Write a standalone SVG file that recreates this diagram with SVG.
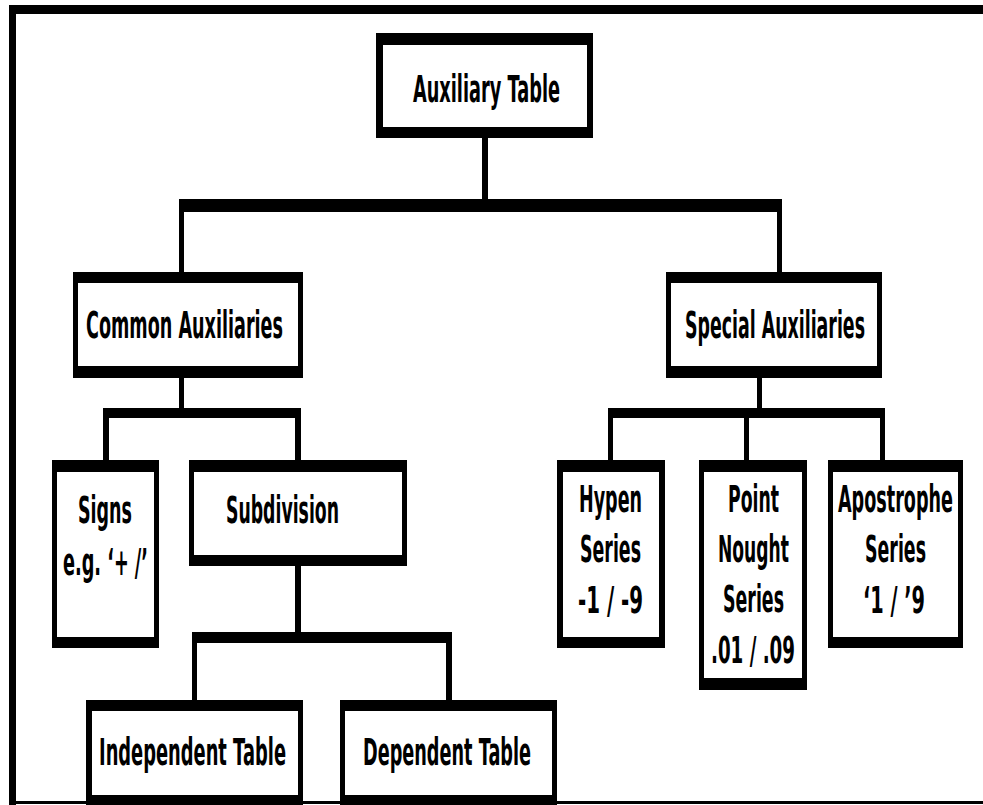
<svg xmlns="http://www.w3.org/2000/svg" width="983" height="805" viewBox="0 0 983 805">
  <style>
    .edge { fill: #000; }
    .wire { fill: #000; }
    .outer { fill: #000; }
    .inner { fill: #fff; }
    .label { font-family: "DejaVu Sans", "Noto Sans", sans-serif; font-weight: bold; font-size: 37px; fill: #000; }
  </style>
  <rect x="0" y="0" width="983" height="805" fill="#fff"/>

  <!-- page frame (right side runs off the sheet) -->
  <g id="frame">
    <rect class="edge" x="9" y="5" width="974" height="9"/>
    <rect class="edge" x="9" y="5" width="7" height="800"/>
    <rect class="edge" x="9" y="801" width="974" height="3"/>
  </g>

  <!-- tree connectors -->
  <g id="connectors">
    <rect class="wire" x="482" y="138" width="6" height="62"/>
    <rect class="wire" x="179" y="199" width="603" height="13"/>
    <rect class="wire" x="179" y="199" width="5" height="73"/>
    <rect class="wire" x="777" y="199" width="5" height="73"/>

    <rect class="wire" x="179" y="378" width="5" height="35"/>
    <rect class="wire" x="103" y="408" width="198" height="10"/>
    <rect class="wire" x="103" y="408" width="6" height="52"/>
    <rect class="wire" x="295" y="408" width="6" height="52"/>

    <rect class="wire" x="295" y="566" width="6" height="70"/>
    <rect class="wire" x="192" y="632" width="260" height="11"/>
    <rect class="wire" x="192" y="632" width="5" height="68"/>
    <rect class="wire" x="446" y="632" width="6" height="68"/>

    <rect class="wire" x="757" y="378" width="5" height="35"/>
    <rect class="wire" x="608" y="408" width="277" height="10"/>
    <rect class="wire" x="608" y="408" width="5" height="52"/>
    <rect class="wire" x="744" y="408" width="5" height="52"/>
    <rect class="wire" x="880" y="408" width="5" height="52"/>
  </g>

  <g id="auxiliary-table">
    <rect class="outer" x="376" y="33" width="217" height="105"/>
    <rect class="inner" x="383" y="45" width="204" height="82"/>
    <text class="label" x="413" y="102" textLength="147" lengthAdjust="spacingAndGlyphs">Auxiliary Table</text>
  </g>

  <g id="common-auxiliaries">
    <rect class="outer" x="73" y="272" width="230" height="106"/>
    <rect class="inner" x="78" y="283" width="220" height="83"/>
    <text class="label" x="86" y="338" textLength="197" lengthAdjust="spacingAndGlyphs">Common Auxiliaries</text>
  </g>

  <g id="special-auxiliaries">
    <rect class="outer" x="666" y="272" width="216" height="106"/>
    <rect class="inner" x="671" y="283" width="206" height="83"/>
    <text class="label" x="685" y="338" textLength="180" lengthAdjust="spacingAndGlyphs">Special Auxiliaries</text>
  </g>

  <g id="signs">
    <rect class="outer" x="52" y="460" width="107" height="188"/>
    <rect class="inner" x="57" y="472" width="97" height="165"/>
    <text class="label" x="78" y="523" textLength="54" lengthAdjust="spacingAndGlyphs">Signs</text>
    <text class="label" x="63" y="575" textLength="85" lengthAdjust="spacingAndGlyphs">e.g. ‘+ /’</text>
  </g>

  <g id="subdivision">
    <rect class="outer" x="189" y="460" width="218" height="106"/>
    <rect class="inner" x="194" y="472" width="208" height="83"/>
    <text class="label" x="226" y="523" textLength="113" lengthAdjust="spacingAndGlyphs">Subdivision</text>
  </g>

  <g id="independent-table">
    <rect class="outer" x="86" y="700" width="217" height="105"/>
    <rect class="inner" x="92" y="711" width="206" height="84"/>
    <text class="label" x="99" y="765" textLength="187" lengthAdjust="spacingAndGlyphs">Independent Table</text>
  </g>

  <g id="dependent-table">
    <rect class="outer" x="340" y="700" width="217" height="105"/>
    <rect class="inner" x="345" y="711" width="207" height="84"/>
    <text class="label" x="363" y="765" textLength="168" lengthAdjust="spacingAndGlyphs">Dependent Table</text>
  </g>

  <g id="hypen-series">
    <rect class="outer" x="557" y="460" width="108" height="188"/>
    <rect class="inner" x="563" y="472" width="96" height="165"/>
    <text class="label" x="579" y="512" textLength="63" lengthAdjust="spacingAndGlyphs">Hypen</text>
    <text class="label" x="580" y="562" textLength="61" lengthAdjust="spacingAndGlyphs">Series</text>
    <text class="label" x="578" y="613" textLength="65" lengthAdjust="spacingAndGlyphs">-1 / -9</text>
  </g>

  <g id="point-nought-series">
    <rect class="outer" x="699" y="460" width="108" height="230"/>
    <rect class="inner" x="704" y="472" width="98" height="206"/>
    <text class="label" x="728" y="512" textLength="51" lengthAdjust="spacingAndGlyphs">Point</text>
    <text class="label" x="718" y="562" textLength="71" lengthAdjust="spacingAndGlyphs">Nought</text>
    <text class="label" x="723" y="612" textLength="61" lengthAdjust="spacingAndGlyphs">Series</text>
    <text class="label" x="711" y="663" textLength="84" lengthAdjust="spacingAndGlyphs">.01 / .09</text>
  </g>

  <g id="apostrophe-series">
    <rect class="outer" x="828" y="460" width="135" height="188"/>
    <rect class="inner" x="833" y="472" width="125" height="165"/>
    <text class="label" x="838" y="512" textLength="115" lengthAdjust="spacingAndGlyphs">Apostrophe</text>
    <text class="label" x="865" y="562" textLength="61" lengthAdjust="spacingAndGlyphs">Series</text>
    <text class="label" x="863" y="613" textLength="62" lengthAdjust="spacingAndGlyphs">‘1 / ’9</text>
  </g>
</svg>
